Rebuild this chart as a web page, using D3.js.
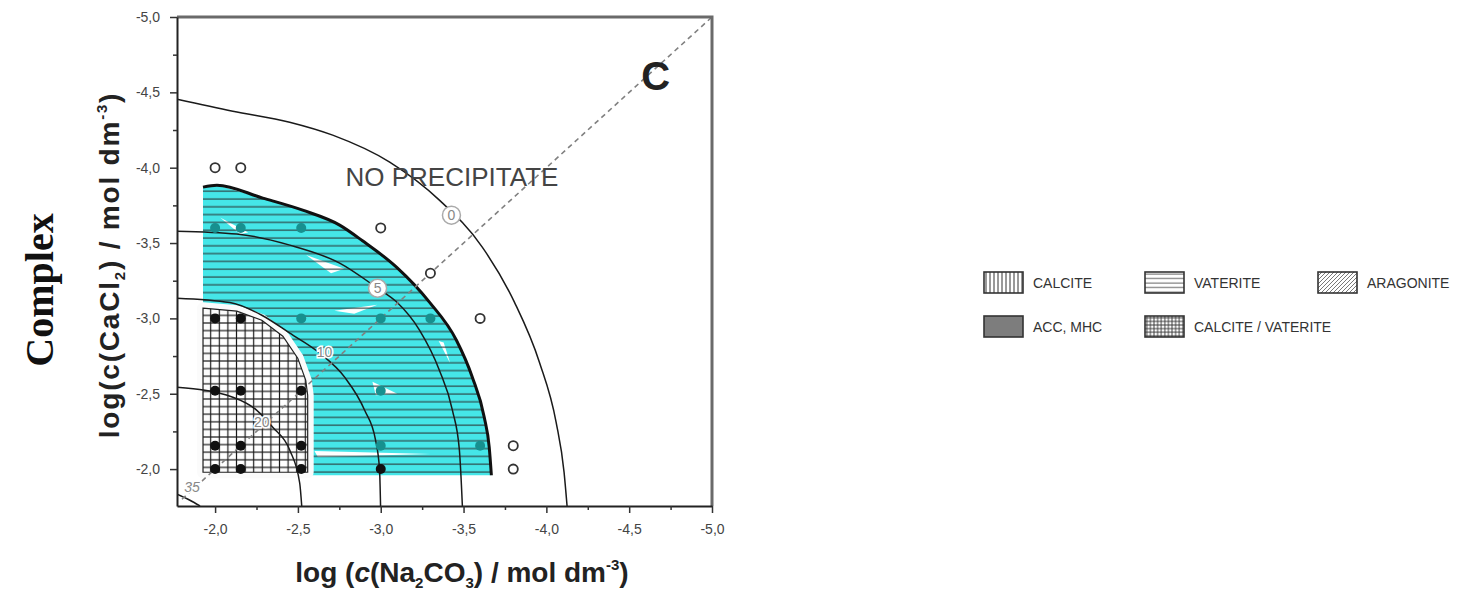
<!DOCTYPE html>
<html>
<head>
<meta charset="utf-8">
<script src="https://cdn.jsdelivr.net/npm/d3@7"></script>
<style>
body { margin: 0; background: #fff; }
svg { display: block; font-family: "Liberation Sans", Arial, sans-serif; }
</style>
</head>
<body>
<svg id="chart" width="1465" height="592"></svg>
<script>
// values (log units)
const xTicks = [-2.0, -2.5, -3.0, -3.5, -4.0, -4.5, -5.0];
const yTicks = [-2.0, -2.5, -3.0, -3.5, -4.0, -4.5, -5.0];
const xMinor = [-2.25, -2.75, -3.25, -3.75, -4.25, -4.75];
const yMinor = [-2.25, -2.75, -3.25, -3.75, -4.25, -4.75];

// supersaturation isolines
const curve0 = [[-1.77, -4.455], [-2.107, -4.375], [-2.450, -4.302], [-2.710, -4.216], [-3.054, -4.037],
  [-3.354, -3.785], [-3.613, -3.473], [-3.807, -3.108], [-3.958, -2.709], [-4.059, -2.310],
  [-4.107, -1.978], [-4.125, -1.755]];
const curve5 = [[-1.77, -3.579], [-2.131, -3.560], [-2.451, -3.486], [-2.752, -3.367], [-2.981, -3.200],
  [-3.095, -3.110], [-3.234, -2.922], [-3.354, -2.656], [-3.433, -2.390], [-3.475, -2.125], [-3.493, -1.755]];
const curve10 = [[-1.77, -3.134], [-2.089, -3.105], [-2.282, -3.021], [-2.451, -2.902], [-2.631, -2.770],
  [-2.782, -2.610], [-2.903, -2.390], [-2.969, -2.191], [-2.993, -1.992], [-2.999, -1.755]];
const curve20 = [[-1.77, -2.543], [-2.107, -2.477], [-2.252, -2.390], [-2.348, -2.278], [-2.451, -2.125],
  [-2.511, -1.906], [-2.523, -1.755]];
const curve35 = [[-1.77, -1.833], [-1.848, -1.793], [-1.909, -1.755]];

// precipitation boundary (thick line) and the two regions
const precipBoundary = [[-1.927, -3.871], [-2.011, -3.884], [-2.288, -3.798], [-2.529, -3.718], [-2.752, -3.619],
  [-2.890, -3.515], [-3.095, -3.340], [-3.294, -3.108], [-3.457, -2.855], [-3.553, -2.610], [-3.625, -2.344],
  [-3.655, -2.145], [-3.668, -1.959]];
const vateriteArea = [[-1.927, -1.959], [-1.927, -3.871]].concat(precipBoundary);
const calciteVateriteArea = [[-1.927, -3.068], [-2.131, -3.048], [-2.282, -2.988], [-2.409, -2.882],
  [-2.499, -2.736], [-2.547, -2.590], [-2.559, -2.490], [-2.559, -1.979], [-1.927, -1.979]];
// spots the cyan marker missed
const markerGaps = [
  [[-2.03, -3.67], [-2.20, -3.57], [-2.15, -3.56]],
  [[-2.55, -3.42], [-2.78, -3.33], [-2.70, -3.30]],
  [[-2.72, -3.05], [-2.98, -3.09], [-2.84, -3.03]],
  [[-2.95, -2.58], [-3.10, -2.50], [-2.97, -2.49]],
  [[-2.60, -2.12], [-3.30, -2.10], [-2.62, -2.08]],
  [[-3.35, -2.85], [-3.42, -2.70], [-3.38, -2.84]]
];

// experiments
const noPrecipitate = [[-2.0, -4.0], [-2.155, -4.0], [-3.0, -3.6], [-3.3, -3.3], [-3.6, -3.0], [-3.8, -2.155], [-3.8, -2.0]];
const vateritePoints = [[-2.0, -3.6], [-2.155, -3.6], [-2.52, -3.6], [-2.52, -3.0], [-3.0, -3.0], [-3.3, -3.0],
  [-3.0, -2.52], [-3.0, -2.155], [-3.6, -2.155]];
const calciteVateritePoints = [[-2.0, -3.0], [-2.155, -3.0], [-2.0, -2.52], [-2.155, -2.52], [-2.52, -2.52],
  [-2.0, -2.155], [-2.155, -2.155], [-2.52, -2.155], [-2.0, -2.0], [-2.155, -2.0], [-2.52, -2.0], [-3.0, -2.0]];

const diagonal = [[-1.8, -1.8], [-5.0, -5.0]];
const curveLabels = [
  { text: '0', x: -3.427, y: -3.685, ring: true },
  { text: '5', x: -2.981, y: -3.200, ring: true },
  { text: '10', x: -2.661, y: -2.776, ring: false },
  { text: '20', x: -2.282, y: -2.311, ring: false },
  { text: '35', x: -1.86, y: -1.879, ring: false }
];

const legendRow1 = [
  { name: 'CALCITE', pattern: 'legV' },
  { name: 'VATERITE', pattern: 'legH' },
  { name: 'ARAGONITE', pattern: 'legD' }
];
const legendRow2 = [
  { name: 'ACC, MHC', pattern: null },
  { name: 'CALCITE / VATERITE', pattern: 'legG' }
];

const svg = d3.select('#chart');
const margin = { left: 177, right: 712, top: 17, bottom: 506 };

const x = d3.scaleLinear().domain([-1.77, -5.0]).range([margin.left, margin.right]);
const y = d3.scaleLinear().domain([-1.755, -5.0]).range([margin.bottom, margin.top]);

const fmt = d => d3.format('.1f')(d).replace('.', ',').replace('−', '-');

// patterns
const defs = svg.append('defs');
function linePattern(id, w, h, lines, sw, color) {
  const p = defs.append('pattern').attr('id', id)
    .attr('patternUnits', 'userSpaceOnUse').attr('width', w).attr('height', h);
  lines.forEach(l => p.append('line')
    .attr('x1', l[0]).attr('y1', l[1]).attr('x2', l[2]).attr('y2', l[3])
    .attr('stroke', color).attr('stroke-width', sw));
}
linePattern('hatchH', 10, 7.8, [[0, 4, 10, 4]], 1.1, '#2a3838');
linePattern('gridCV', 8.6, 7.6, [[0, 3.8, 8.6, 3.8], [4.3, 0, 4.3, 7.6]], 1.2, '#1a1a1a');
linePattern('legV', 4, 4, [[2, 0, 2, 4]], 1, '#333');
linePattern('legH', 4, 4.5, [[0, 2, 4, 2]], 0.9, '#444');
linePattern('legD', 4, 4, [[0, 4, 4, 0], [-1, 1, 1, -1], [3, 5, 5, 3]], 0.8, '#555');
linePattern('legG', 3.6, 3.6, [[0, 1.8, 3.6, 1.8], [1.8, 0, 1.8, 3.6]], 0.9, '#333');

defs.append('clipPath').attr('id', 'plotClip').append('rect')
  .attr('x', margin.left).attr('y', margin.top)
  .attr('width', margin.right - margin.left).attr('height', margin.bottom - margin.top);

const plot = svg.append('g').attr('clip-path', 'url(#plotClip)');

const poly = d3.line().x(d => x(d[0])).y(d => y(d[1]));
const smooth = d3.line().x(d => x(d[0])).y(d => y(d[1])).curve(d3.curveMonotoneX);

// vaterite region: cyan marker + horizontal hatching
plot.append('path').attr('d', poly(vateriteArea) + 'Z').attr('fill', '#45e6e8');
plot.selectAll('.gap').data(markerGaps).enter().append('path')
  .attr('class', 'gap').attr('d', d => poly(d) + 'Z').attr('fill', '#fff');
plot.append('path').attr('d', poly(vateriteArea) + 'Z').attr('fill', 'url(#hatchH)');

// calcite / vaterite region with white gap around it
plot.append('path').attr('d', poly(calciteVateriteArea) + 'Z')
  .attr('fill', '#fff').attr('stroke', '#fbfbfb').attr('stroke-width', 12).attr('stroke-linejoin', 'round');
plot.append('path').attr('d', poly(calciteVateriteArea) + 'Z')
  .attr('fill', 'url(#gridCV)').attr('stroke', '#222').attr('stroke-width', 1.2);

// isolines
[curve0, curve5, curve10, curve20, curve35].forEach(c => {
  plot.append('path').attr('d', smooth(c)).attr('fill', 'none')
    .attr('stroke', '#1a1a1a').attr('stroke-width', 1.5);
});
plot.append('path').attr('d', smooth(precipBoundary)).attr('fill', 'none')
  .attr('stroke', '#111').attr('stroke-width', 3);

plot.append('path').attr('d', poly(diagonal)).attr('fill', 'none')
  .attr('stroke', '#808080').attr('stroke-width', 1.6).attr('stroke-dasharray', '5,4');

// points
plot.selectAll('.open').data(noPrecipitate).enter().append('circle')
  .attr('class', 'open').attr('cx', d => x(d[0])).attr('cy', d => y(d[1])).attr('r', 4.6)
  .attr('fill', '#fff').attr('stroke', '#333').attr('stroke-width', 1.8);
plot.selectAll('.vat').data(vateritePoints).enter().append('circle')
  .attr('class', 'vat').attr('cx', d => x(d[0])).attr('cy', d => y(d[1])).attr('r', 5)
  .attr('fill', '#17908f');
plot.selectAll('.cv').data(calciteVateritePoints).enter().append('circle')
  .attr('class', 'cv').attr('cx', d => x(d[0])).attr('cy', d => y(d[1])).attr('r', 5)
  .attr('fill', '#111');

// isoline labels
const lab = plot.selectAll('.clab').data(curveLabels).enter().append('g')
  .attr('class', 'clab').attr('transform', d => 'translate(' + x(d.x) + ',' + y(d.y) + ')');
lab.filter(d => d.ring).append('circle').attr('r', 9)
  .attr('fill', '#fff').attr('stroke', '#aaa').attr('stroke-width', 1.5);
lab.append('text').attr('text-anchor', 'middle').attr('dy', '0.35em')
  .attr('font-size', 14).attr('fill', '#888')
  .attr('font-style', d => d.text === '35' ? 'italic' : 'normal')
  .attr('stroke', d => d.ring ? 'none' : '#fff').attr('stroke-width', 3).attr('paint-order', 'stroke')
  .text(d => d.text);

plot.append('text').attr('x', x(-3.43)).attr('y', y(-3.88)).attr('text-anchor', 'middle')
  .attr('font-size', 26).attr('fill', '#444').text('NO PRECIPITATE');
plot.append('text').attr('x', x(-4.66)).attr('y', y(-4.515)).attr('text-anchor', 'middle')
  .attr('font-size', 40).attr('font-weight', 'bold').attr('fill', '#222').text('C');

// frame (top / right) and axes
svg.append('path')
  .attr('d', 'M' + margin.left + ',' + margin.top + 'H' + margin.right + 'V' + margin.bottom)
  .attr('fill', 'none').attr('stroke', '#6a6a6a').attr('stroke-width', 3);

svg.append('g').attr('transform', 'translate(0,' + margin.bottom + ')')
  .call(d3.axisBottom(x).tickValues(xTicks).tickFormat(fmt).tickSize(7).tickSizeOuter(0).tickPadding(11));
svg.append('g').attr('transform', 'translate(0,' + margin.bottom + ')')
  .call(d3.axisBottom(x).tickValues(xMinor).tickFormat('').tickSize(4).tickSizeOuter(0))
  .select('.domain').remove();
svg.append('g').attr('transform', 'translate(' + margin.left + ',0)')
  .call(d3.axisLeft(y).tickValues(yTicks).tickFormat(fmt).tickSize(7).tickSizeOuter(0).tickPadding(10));
svg.append('g').attr('transform', 'translate(' + margin.left + ',0)')
  .call(d3.axisLeft(y).tickValues(yMinor).tickFormat('').tickSize(4).tickSizeOuter(0))
  .select('.domain').remove();

svg.selectAll('.domain').attr('stroke', '#222').attr('stroke-width', 2);
svg.selectAll('.tick line').attr('stroke', '#333').attr('stroke-width', 1.5);
svg.selectAll('.tick text').attr('font-size', 14).attr('fill', '#444')
  .attr('font-family', '"Liberation Sans", Arial, sans-serif');

// axis titles
const xt = svg.append('text').attr('x', 462).attr('y', 582).attr('text-anchor', 'middle')
  .attr('font-size', 28).attr('font-weight', 'bold').attr('fill', '#222');
xt.append('tspan').text('log (');
xt.append('tspan').attr('font-style', 'italic').text('c');
xt.append('tspan').text('(Na');
xt.append('tspan').attr('font-size', 15).attr('dy', 6).text('2');
xt.append('tspan').attr('dy', -6).text('CO');
xt.append('tspan').attr('font-size', 15).attr('dy', 6).text('3');
xt.append('tspan').attr('dy', -6).text(') / mol dm');
xt.append('tspan').attr('font-size', 15).attr('dy', -12).text('-3');
xt.append('tspan').attr('dy', 12).text(')');

const yt = svg.append('text').attr('transform', 'translate(119,265) rotate(-90)').attr('text-anchor', 'middle')
  .attr('font-size', 28).attr('font-weight', 'bold').attr('fill', '#222').attr('letter-spacing', 1.8);
yt.append('tspan').text('log(c(CaCl');
yt.append('tspan').attr('font-size', 15).attr('dy', 6).text('2');
yt.append('tspan').attr('dy', -6).text(') / mol dm');
yt.append('tspan').attr('font-size', 15).attr('dy', -12).text('-3');
yt.append('tspan').attr('dy', 12).text(')');

svg.append('text').attr('transform', 'translate(53,290) rotate(-90)').attr('text-anchor', 'middle')
  .attr('font-family', '"Liberation Serif", "Times New Roman", serif')
  .attr('font-size', 40).attr('font-weight', 'bold').attr('fill', '#111').text('Complex');

// legend
const legend = svg.append('g').attr('transform', 'translate(984,272)');
function legendRow(items, xs, yOff) {
  items.forEach((d, i) => {
    const g = legend.append('g').attr('transform', 'translate(' + xs[i] + ',' + yOff + ')');
    g.append('rect').attr('width', 39).attr('height', 21)
      .attr('fill', d.pattern ? 'url(#' + d.pattern + ')' : '#7d7d7d')
      .attr('stroke', '#333').attr('stroke-width', 1.6);
    g.append('text').attr('x', 49).attr('y', 16).attr('font-size', 14).attr('fill', '#333').text(d.name);
  });
}
legendRow(legendRow1, [0, 161, 334], 0);
legendRow(legendRow2, [0, 161], 44);
</script>
</body>
</html>
